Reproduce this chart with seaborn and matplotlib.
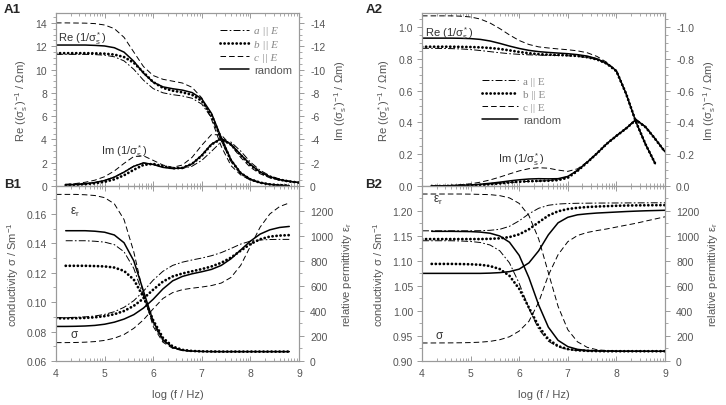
import numpy as np
import matplotlib.pyplot as plt
import seaborn as sns
from matplotlib.lines import Line2D
from matplotlib.ticker import FixedLocator, MultipleLocator, FormatStrFormatter

sns.set_style("ticks")
plt.rcParams["font.family"] = ["Liberation Sans", "DejaVu Sans"]
plt.rcParams["mathtext.fontset"] = "custom"
plt.rcParams["mathtext.rm"] = "Liberation Sans"
plt.rcParams["mathtext.it"] = "Liberation Sans:italic"
plt.rcParams["axes.unicode_minus"] = False
plt.rcParams["lines.scale_dashes"] = False

nan = np.nan
log_f = [4.0, 4.2, 4.4, 4.6, 4.8, 5.0, 5.2, 5.4, 5.6, 5.8, 6.0, 6.2, 6.4,
         6.6, 6.8, 7.0, 7.2, 7.4, 7.6, 7.8, 8.0, 8.2, 8.4, 8.6, 8.8, 9.0]
orient = ["a || E", "b || E", "c || E", "random"]

# A1: Re / Im of 1/sigma* (Ohm m)
a1_re_a = [11.3, 11.3, 11.3, 11.3, 11.28, 11.23, 11.09, 10.74, 10.02, 9.08, 8.36, 8.00, 7.84,
           7.73, 7.53, 7.03, 5.86, 3.90, 2.10, 1.05, 0.55, 0.28, 0.14, 0.07, 0.03, nan]
a1_re_b = [11.4, 11.4, 11.4, 11.4, 11.39, 11.36, 11.28, 11.07, 10.58, 9.75, 8.92, 8.42, 8.18,
           8.04, 7.83, 7.30, 6.08, 4.05, 2.20, 1.10, 0.57, 0.29, 0.14, 0.07, 0.03, nan]
a1_re_c = [14.0, 14.0, 13.99, 13.98, 13.94, 13.82, 13.51, 12.76, 11.5, 10.25, 9.48, 9.16, 9.0,
           8.84, 8.47, 7.56, 5.72, 3.40, 1.75, 0.95, 0.50, 0.26, 0.13, 0.06, 0.03, nan]
a1_re_r = [12.1, 12.1, 12.1, 12.1, 12.07, 12.02, 11.87, 11.49, 10.71, 9.69, 8.91, 8.51, 8.35,
           8.23, 8.02, 7.48, 6.23, 4.15, 2.25, 1.12, 0.58, 0.29, 0.14, 0.07, 0.03, nan]
a1_im_a = [nan, -0.10, -0.13, -0.19, -0.30, -0.48, -0.77, -1.20, -1.71, -1.99, -1.85, -1.65, -1.50,
           -1.50, -1.70, -2.20, -2.98, -3.80, -3.77, -3.00, -2.05, -1.35, -0.88, -0.60, -0.42, -0.31]
a1_im_b = [nan, -0.08, -0.11, -0.16, -0.23, -0.36, -0.57, -0.92, -1.39, -1.81, -1.90, -1.70, -1.52,
           -1.55, -1.90, -2.60, -3.57, -4.04, -3.55, -2.65, -1.80, -1.17, -0.78, -0.54, -0.39, -0.29]
a1_im_c = [nan, -0.15, -0.21, -0.32, -0.50, -0.80, -1.29, -1.94, -2.53, -2.59, -2.20, -1.80, -1.60,
           -1.80, -2.46, -3.50, -4.42, -4.38, -3.50, -2.45, -1.60, -1.05, -0.70, -0.50, -0.37, -0.28]
a1_im_r = [nan, -0.10, -0.13, -0.19, -0.30, -0.47, -0.76, -1.19, -1.69, -1.98, -1.85, -1.60, -1.50,
           -1.55, -1.90, -2.65, -3.59, -4.08, -3.60, -2.70, -1.85, -1.20, -0.80, -0.55, -0.40, -0.30]

# A2
a2_re_a = [0.866, 0.866, 0.865, 0.864, 0.862, 0.858, 0.852, 0.845, 0.838, 0.832, 0.828, 0.825, 0.823,
           0.822, 0.821, 0.819, 0.815, 0.808, 0.795, 0.768, 0.720, 0.580, 0.405, 0.262, 0.140, nan]
a2_re_b = [0.876, 0.876, 0.876, 0.876, 0.875, 0.874, 0.872, 0.868, 0.862, 0.853, 0.843, 0.835, 0.829,
           0.826, 0.824, 0.822, 0.818, 0.810, 0.796, 0.770, 0.722, 0.580, 0.405, 0.262, 0.140, nan]
a2_re_c = [1.070, 1.070, 1.070, 1.070, 1.068, 1.063, 1.050, 1.025, 0.990, 0.950, 0.915, 0.890, 0.875,
           0.868, 0.862, 0.857, 0.850, 0.838, 0.815, 0.778, 0.725, 0.580, 0.405, 0.262, 0.140, nan]
a2_re_r = [0.930, 0.930, 0.930, 0.930, 0.929, 0.927, 0.922, 0.912, 0.897, 0.880, 0.865, 0.853, 0.845,
           0.840, 0.836, 0.832, 0.826, 0.817, 0.800, 0.772, 0.725, 0.580, 0.405, 0.262, 0.140, nan]
a2_im_a = [nan, 0.0, -0.001, -0.002, -0.004, -0.006, -0.009, -0.013, -0.018, -0.022, -0.026, -0.029, -0.031,
           -0.034, -0.042, -0.060, -0.100, -0.150, -0.205, -0.265, -0.315, -0.362, -0.415, -0.370, -0.295, -0.215]
a2_im_b = [nan, 0.0, 0.0, -0.001, -0.002, -0.004, -0.007, -0.011, -0.016, -0.022, -0.027, -0.030, -0.032,
           -0.033, -0.037, -0.052, -0.095, -0.148, -0.205, -0.265, -0.315, -0.362, -0.415, -0.370, -0.295, -0.215]
a2_im_c = [nan, 0.0, -0.002, -0.004, -0.008, -0.014, -0.024, -0.038, -0.056, -0.076, -0.095, -0.109, -0.115,
           -0.112, -0.100, -0.092, -0.108, -0.152, -0.207, -0.267, -0.318, -0.365, -0.420, -0.373, -0.297, -0.216]
a2_im_r = [nan, 0.0, -0.001, -0.002, -0.004, -0.007, -0.011, -0.017, -0.024, -0.032, -0.039, -0.044, -0.046,
           -0.045, -0.046, -0.060, -0.098, -0.150, -0.205, -0.265, -0.315, -0.362, -0.418, -0.372, -0.296, -0.215]

# B1: conductivity (S/m) and relative permittivity
b1_sig_a = [0.0895, 0.0895, 0.0897, 0.0900, 0.0906, 0.0917, 0.0935, 0.0965, 0.1010, 0.1075, 0.1150, 0.1210, 0.1250,
            0.1272, 0.1287, 0.1300, 0.1316, 0.1337, 0.1365, 0.1395, 0.1415, 0.1423, 0.1426, 0.1427, 0.1427, nan]
b1_sig_b = [0.0890, 0.0890, 0.0891, 0.0893, 0.0897, 0.0905, 0.0918, 0.0940, 0.0975, 0.1025, 0.1085, 0.1140, 0.1175,
            0.1195, 0.1210, 0.1225, 0.1243, 0.1268, 0.1303, 0.1350, 0.1395, 0.1428, 0.1446, 0.1453, 0.1456, nan]
b1_sig_c = [0.0725, 0.0725, 0.0726, 0.0728, 0.0732, 0.0740, 0.0755, 0.0780, 0.0822, 0.0880, 0.0955, 0.1025, 0.1065,
            0.1085, 0.1095, 0.1103, 0.1113, 0.1130, 0.1168, 0.1250, 0.1380, 0.1510, 0.1600, 0.1650, 0.1675, nan]
b1_sig_r = [0.0835, 0.0835, 0.0836, 0.0838, 0.0842, 0.0850, 0.0864, 0.0885, 0.0915, 0.0960, 0.1020, 0.1090, 0.1145,
            0.1175, 0.1193, 0.1207, 0.1223, 0.1250, 0.1295, 0.1355, 0.1415, 0.1463, 0.1492, 0.1508, 0.1515, nan]
b1_eps_a = [nan, 960, 960, 960, 956, 949, 929, 872, 740, 518, 295, 162, 106,
            86, 79, 76, 75, 75, 75, 75, 75, 75, 75, 75, 75, nan]
b1_eps_b = [nan, 760, 760, 760, 758, 755, 746, 719, 650, 510, 325, 185, 116,
            89, 80, 77, 76, 75, 75, 75, 75, 75, 75, 75, 75, nan]
b1_eps_c = [1330, 1330, 1330, 1327, 1321, 1304, 1255, 1129, 872, 533, 276, 150, 101,
            84, 78, 76, 75, 75, 75, 75, 75, 75, 75, 75, 75, nan]
b1_eps_r = [nan, 1040, 1040, 1040, 1036, 1028, 1006, 944, 800, 558, 315, 170, 109,
            86, 79, 76, 75, 75, 75, 75, 75, 75, 75, 75, 75, nan]

# B2
b2_sig_a = [1.160, 1.160, 1.160, 1.160, 1.160, 1.160, 1.1603, 1.1610, 1.1630, 1.1690, 1.1800, 1.1940, 1.2050,
            1.2110, 1.2135, 1.2145, 1.2150, 1.2152, 1.2154, 1.2155, 1.2156, 1.2157, 1.2158, 1.2159, 1.2160, 1.2160]
b2_sig_b = [1.1435, 1.1435, 1.1435, 1.1435, 1.1435, 1.1435, 1.1435, 1.1440, 1.1450, 1.1475, 1.1530, 1.1630, 1.1770,
            1.1905, 1.1990, 1.2035, 1.2060, 1.2075, 1.2085, 1.2093, 1.2100, 1.2105, 1.2108, 1.2110, 1.2112, 1.2113]
b2_sig_c = [0.9360, 0.9360, 0.9361, 0.9362, 0.9364, 0.9368, 0.9376, 0.9392, 0.9425, 0.9484, 0.9598, 0.9793, 1.0171,
            1.0712, 1.1123, 1.1383, 1.1507, 1.1567, 1.1605, 1.1637, 1.1675, 1.1713, 1.1750, 1.1794, 1.1837, 1.1880]
b2_sig_r = [1.0750, 1.0750, 1.0750, 1.0750, 1.0750, 1.0750, 1.0750, 1.0755, 1.0765, 1.0785, 1.0835, 1.0960, 1.1200,
            1.1520, 1.1760, 1.1870, 1.1920, 1.1940, 1.1955, 1.1965, 1.1975, 1.1985, 1.1993, 1.2000, 1.2005, 1.2010]
b2_eps_a = [960, 960, 960, 960, 958, 954, 946, 926, 880, 783, 619, 419, 255,
            158, 112, 92, 84, 80, 78, 78, 78, 78, 78, 78, 78, 78]
b2_eps_b = [nan, 775, 775, 775, 774, 772, 768, 758, 734, 680, 576, 426, 277,
            173, 119, 95, 85, 81, 79, 78, 78, 78, 78, 78, 78, 78]
b2_eps_c = [1333, 1333, 1333, 1333, 1333, 1332, 1330, 1328, 1320, 1302, 1258, 1161, 975,
            705, 436, 250, 153, 109, 90, 83, 80, 78, 78, 78, 78, 78]
b2_eps_r = [nan, 1035, 1035, 1035, 1034, 1033, 1029, 1020, 998, 948, 843, 665, 448,
            270, 165, 115, 93, 84, 81, 79, 78, 78, 78, 78, 78, 78]

styles = {
    "a || E": dict(linestyle=(0, (5, 1.6, 1.2, 1.6)), linewidth=0.7),
    "b || E": dict(linestyle=(0, (0.1, 2.8)), linewidth=2.0, dash_capstyle="round"),
    "c || E": dict(linestyle=(0, (4, 2.2)), linewidth=0.7),
    "random": dict(linestyle="-", linewidth=1.1),
}

spine_c = "#9a9a9a"
text_c = "#555555"
fs = 7.5

x_major = [4, 5, 6, 7, 8, 9]
x_minor = [d + np.log10(m) for d in range(4, 9) for m in range(2, 10)]


def draw(ax, series):
    for name, vals in zip(orient, series):
        sns.lineplot(x=log_f, y=vals, ax=ax, color="black", estimator=None, **styles[name])


def style(ax, tw, bottom_labels):
    for a in (ax, tw):
        for s in a.spines.values():
            s.set_color(spine_c)
            s.set_linewidth(0.8)
    ax.set_xlim(4, 9)
    ax.xaxis.set_major_locator(FixedLocator(x_major))
    ax.xaxis.set_minor_locator(FixedLocator(x_minor))
    ax.tick_params(axis="x", which="both", direction="in", top=True, bottom=True, pad=5,
                   color=spine_c, labelcolor=text_c, labelsize=fs, labelbottom=bottom_labels)
    ax.tick_params(axis="x", which="major", length=3.5, width=0.7)
    ax.tick_params(axis="x", which="minor", length=2, width=0.6)
    for a, p in ((ax, 3), (tw, 4.5)):
        a.tick_params(axis="y", which="both", direction="out", color=spine_c,
                      labelcolor=text_c, labelsize=fs, pad=p)
        a.tick_params(axis="y", which="major", length=3.5, width=0.7)
        a.tick_params(axis="y", which="minor", length=2, width=0.6)


fig = plt.figure(figsize=(7.26, 4.06), dpi=100)
W = 243 / 726
HA = 173 / 406
HB = 175 / 406
ax_a1 = fig.add_axes([56 / 726, 1 - 187 / 406, W, HA])
ax_a2 = fig.add_axes([422 / 726, 1 - 187 / 406, W, HA])
ax_b1 = fig.add_axes([56 / 726, 1 - 362 / 406, W, HB])
ax_b2 = fig.add_axes([422 / 726, 1 - 362 / 406, W, HB])

re_label = "Re ((σ$^*_\\mathrm{s}$)$^{-1}$ / Ωm)"
im_label = "Im ((σ$^*_\\mathrm{s}$)$^{-1}$ / Ωm)"

# A1
tw = ax_a1.twinx()
draw(ax_a1, [a1_re_a, a1_re_b, a1_re_c, a1_re_r])
draw(tw, [a1_im_a, a1_im_b, a1_im_c, a1_im_r])
style(ax_a1, tw, False)
ax_a1.set_ylim(0, 14.85)
tw.set_ylim(0, -14.85)
ax_a1.yaxis.set_major_locator(MultipleLocator(2))
ax_a1.yaxis.set_minor_locator(MultipleLocator(0.5))
tw.yaxis.set_major_locator(MultipleLocator(2))
tw.yaxis.set_minor_locator(MultipleLocator(0.5))
ax_a1.set_ylabel(re_label, color=text_c, fontsize=fs + 0.5, labelpad=4)
tw.set_ylabel(im_label, color=text_c, fontsize=fs + 0.5, labelpad=5)
ax_a1.text(4.05, 12.7, "Re (1/σ$^*_\\mathrm{s}$)", fontsize=8, color="#333333", va="center")
ax_a1.text(4.92, 3.0, "Im (1/σ$^*_\\mathrm{s}$)", fontsize=8, color="#333333", va="center")

# A2
tw2 = ax_a2.twinx()
draw(ax_a2, [a2_re_a, a2_re_b, a2_re_c, a2_re_r])
draw(tw2, [a2_im_a, a2_im_b, a2_im_c, a2_im_r])
style(ax_a2, tw2, False)
ax_a2.set_ylim(0, 1.088)
tw2.set_ylim(0, -1.088)
ax_a2.yaxis.set_major_locator(MultipleLocator(0.2))
ax_a2.yaxis.set_minor_locator(MultipleLocator(0.05))
tw2.yaxis.set_major_locator(MultipleLocator(0.2))
tw2.yaxis.set_minor_locator(MultipleLocator(0.05))
ax_a2.yaxis.set_major_formatter(FormatStrFormatter("%.1f"))
tw2.yaxis.set_major_formatter(FormatStrFormatter("%.1f"))
ax_a2.set_ylabel(re_label, color=text_c, fontsize=fs + 0.5, labelpad=4)
tw2.set_ylabel(im_label, color=text_c, fontsize=fs + 0.5, labelpad=5)
ax_a2.text(4.06, 0.965, "Re (1/σ$^*_\\mathrm{s}$)", fontsize=8, color="#333333", va="center")
ax_a2.text(5.56, 0.17, "Im (1/σ$^*_\\mathrm{s}$)", fontsize=8, color="#333333", va="center")

# B1
tw3 = ax_b1.twinx()
draw(ax_b1, [b1_sig_a, b1_sig_b, b1_sig_c, b1_sig_r])
draw(tw3, [b1_eps_a, b1_eps_b, b1_eps_c, b1_eps_r])
style(ax_b1, tw3, True)
ax_b1.set_ylim(0.06, 0.179)
tw3.set_ylim(0, 1397)
ax_b1.yaxis.set_major_locator(MultipleLocator(0.02))
ax_b1.yaxis.set_minor_locator(MultipleLocator(0.01))
tw3.yaxis.set_major_locator(MultipleLocator(200))
tw3.yaxis.set_minor_locator(MultipleLocator(100))
ax_b1.set_ylabel("conductivity σ / Sm$^{-1}$", color=text_c, fontsize=fs + 0.5, labelpad=4)
tw3.set_ylabel("relative permittivity ε$_\\mathrm{r}$", color=text_c, fontsize=fs + 0.5, labelpad=5)
ax_b1.set_xlabel("log (f / Hz)", color=text_c, fontsize=fs + 0.5, labelpad=8)
ax_b1.text(4.29, 0.1614, "ε$_\\mathrm{r}$", fontsize=8.5, color="#333333", va="center")
ax_b1.text(4.29, 0.0784, "σ", fontsize=8.5, color="#333333", va="center")

# B2
tw4 = ax_b2.twinx()
draw(ax_b2, [b2_sig_a, b2_sig_b, b2_sig_c, b2_sig_r])
draw(tw4, [b2_eps_a, b2_eps_b, b2_eps_c, b2_eps_r])
style(ax_b2, tw4, True)
ax_b2.set_ylim(0.90, 1.2495)
tw4.set_ylim(0, 1397)
ax_b2.yaxis.set_major_locator(MultipleLocator(0.05))
ax_b2.yaxis.set_minor_locator(MultipleLocator(0.025))
ax_b2.yaxis.set_major_formatter(FormatStrFormatter("%.2f"))
tw4.yaxis.set_major_locator(MultipleLocator(200))
tw4.yaxis.set_minor_locator(MultipleLocator(100))
ax_b2.set_ylabel("conductivity σ / Sm$^{-1}$", color=text_c, fontsize=fs + 0.5, labelpad=4)
tw4.set_ylabel("relative permittivity ε$_\\mathrm{r}$", color=text_c, fontsize=fs + 0.5, labelpad=5)
ax_b2.set_xlabel("log (f / Hz)", color=text_c, fontsize=fs + 0.5, labelpad=8)
ax_b2.text(4.23, 1.222, "ε$_\\mathrm{r}$", fontsize=8.5, color="#333333", va="center")
ax_b2.text(4.27, 0.952, "σ", fontsize=8.5, color="#333333", va="center")

# legends
handles = [Line2D([], [], color="black", **styles[n]) for n in orient]
leg1 = ax_a1.legend(handles, orient, loc="upper right", bbox_to_anchor=(1.0, 0.965),
                    frameon=False, fontsize=fs + 0.5, handlelength=2.6, labelspacing=0.3,
                    handletextpad=0.5, borderaxespad=0.2)
for t in leg1.get_texts():
    t.set_color("#888888")
    if t.get_text() != "random":
        t.set_fontfamily("Liberation Serif")
        t.set_fontstyle("italic")
    else:
        t.set_color("#555555")
leg2 = ax_a2.legend(handles, orient, loc="upper left", bbox_to_anchor=(0.22, 0.675),
                    frameon=False, fontsize=fs + 0.5, handlelength=3.2, labelspacing=0.3,
                    handletextpad=0.5, borderaxespad=0.2)
for t in leg2.get_texts():
    t.set_color("#888888")
    if t.get_text() != "random":
        t.set_fontfamily("Liberation Serif")
    else:
        t.set_color("#555555")

for lab, x, y in (("A1", 0.005, 0.975), ("B1", 0.005, 0.545), ("A2", 0.503, 0.975), ("B2", 0.503, 0.545)):
    fig.text(x, y, lab, fontsize=9.5, fontweight="bold", va="center", ha="left")

fig.savefig("out.png", dpi=100, facecolor="white")
